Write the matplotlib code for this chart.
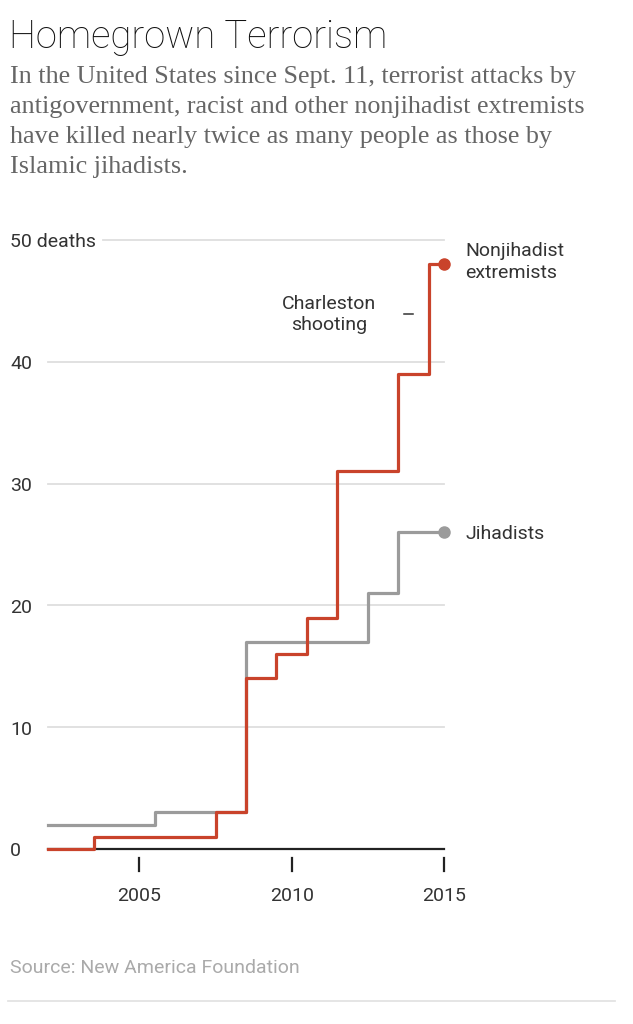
"""Homegrown Terrorism: cumulative deaths, step chart."""
import numpy as np
import matplotlib
matplotlib.use('Agg')
import matplotlib.pyplot as plt
from matplotlib.transforms import blended_transform_factory

W, H, DPI = 633, 1024, 100

years = np.arange(2002, 2016)
nonjihadist = [0, 0, 1, 1, 1, 1, 3, 14, 16, 19, 31, 31, 39, 48]
jihadist = [2, 2, 2, 2, 3, 3, 3, 17, 17, 17, 17, 21, 26, 26]
y_ticks = [0, 10, 20, 30, 40, 50]
y_labels = ['0', '10', '20', '30', '40', '50 deaths']
x_ticks = [2005, 2010, 2015]

RED = '#c9432b'
GREY = '#9b9b9b'
SANS = ['Roboto', 'DejaVu Sans']
SERIF = ['Liberation Serif', 'DejaVu Serif']
FS = 14


def px(x, y):
    """figure pixels (top-left origin) -> figure fraction"""
    return x / W, 1 - y / H


def main():
    fig = plt.figure(figsize=(W / DPI, H / DPI), dpi=DPI)
    x0, y0 = px(48, 849)
    x1, y1 = px(444, 240)
    ax = fig.add_axes([x0, y0, x1 - x0, y1 - y0])
    ax.set_xlim(2002, 2015)
    ax.set_ylim(0, 50)
    ax.axis('off')

    # gridlines
    lab = blended_transform_factory(fig.transFigure, ax.transData)
    for v, t in zip(y_ticks, y_labels):
        start = 2002 if v != 50 else 2003.8
        if v > 0:
            ax.plot([start, 2015], [v, v], color='#dedede', lw=1.3,
                    clip_on=False, zorder=1)
        ax.text(10 / W, v - 0.2, t, transform=lab, ha='left', va='center',
                fontsize=FS, color='#333333', family=SANS)
    ax.plot([2002, 2015], [0, 0], color='#222222', lw=1.6,
            clip_on=False, zorder=2)

    # x ticks
    for xt in x_ticks:
        ax.plot([xt, xt], [-0.75, -1.8], color='#222222', lw=1.6,
                clip_on=False)
        ax.text(xt, -3.85, str(xt), ha='center', va='center',
                fontsize=FS, color='#333333', family=SANS)

    # series
    ax.step(years, jihadist, where='mid', color=GREY, lw=2.3,
            clip_on=False, zorder=3)
    ax.step(years, nonjihadist, where='mid', color=RED, lw=2.3,
            clip_on=False, zorder=4)
    ax.plot(years[-1], jihadist[-1], 'o', color=GREY, ms=8,
            clip_on=False, zorder=5)
    ax.plot(years[-1], nonjihadist[-1], 'o', color=RED, ms=8,
            clip_on=False, zorder=5)

    ax.text(2015.7, 48.2, 'Nonjihadist\nextremists', ha='left',
            va='center', fontsize=FS, color='#333333', family=SANS,
            linespacing=1.25)
    ax.text(2015.7, 25.9, 'Jihadists', ha='left', va='center',
            fontsize=FS, color='#333333', family=SANS)
    ax.text(2011.22, 43.9, 'Charleston\nshooting', ha='center',
            va='center', fontsize=FS, color='#333333', family=SANS,
            linespacing=1.25)
    ax.plot([2013.68, 2013.98], [43.9, 43.9], color='#333333', lw=1.1)

    # header
    fig.text(*px(9, 37), 'Homegrown Terrorism', ha='left', va='center',
             fontsize=27.5, color='#111111', family=SANS,
             fontweight='light')
    sub = ('In the United States since Sept. 11, terrorist attacks by\n'
           'antigovernment, racist and other nonjihadist extremists\n'
           'have killed nearly twice as many people as those by\n'
           'Islamic jihadists.')
    fig.text(*px(10, 66), sub, ha='left', va='top', fontsize=18.8,
             color='#666666', family=SERIF, linespacing=1.48)

    fig.text(*px(10, 968), 'Source: New America Foundation', ha='left',
             va='center', fontsize=FS, color='#aaaaaa', family=SANS)
    line = plt.Line2D([8 / W, 615 / W], [1 - 1001 / H] * 2,
                      color='#e3e3e3', lw=1.3, transform=fig.transFigure)
    fig.add_artist(line)

    fig.savefig('out.png', dpi=DPI)
    plt.close(fig)


if __name__ == '__main__':
    main()
